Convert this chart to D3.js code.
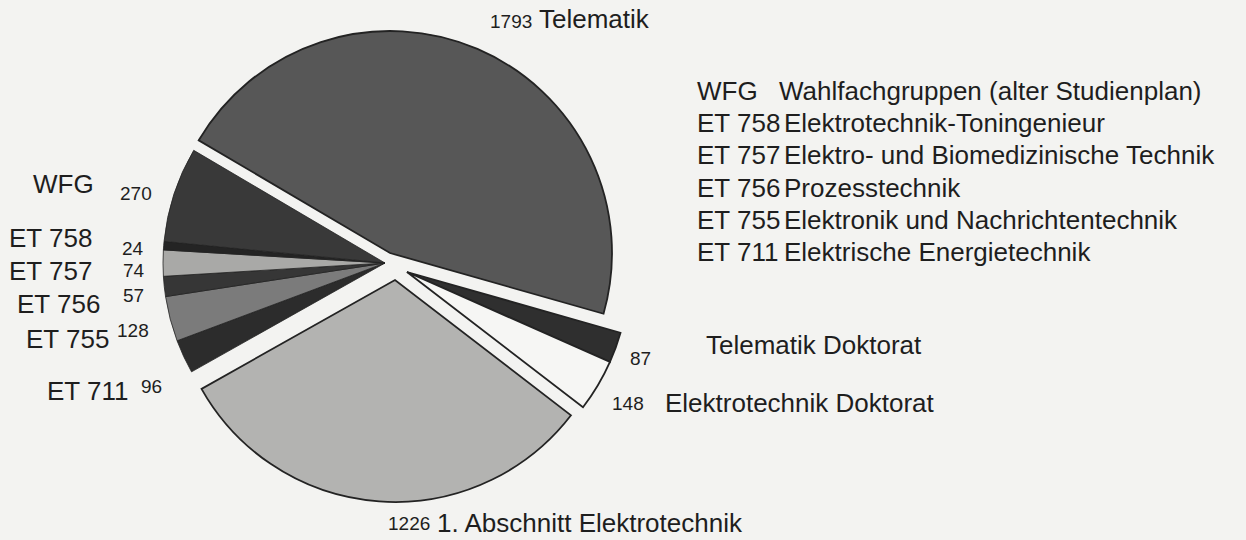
<!DOCTYPE html>
<html>
<head>
<meta charset="utf-8">
<script src="https://cdn.jsdelivr.net/npm/d3@7"></script>
<style>
  html, body { margin: 0; padding: 0; background: #f3f3f1; }
  svg { display: block; }
  text { font-family: "Liberation Sans", Arial, Helvetica, sans-serif; fill: #1e1e1e; }
</style>
</head>
<body>
<svg id="chart" width="1246" height="540"></svg>
<script>
// ---- data ----
const categories = ["Telematik", "Telematik Doktorat", "Elektrotechnik Doktorat", "1. Abschnitt Elektrotechnik",
                    "ET 711", "ET 755", "ET 756", "ET 757", "ET 758", "WFG"];
const values = [1793, 87, 148, 1226, 96, 128, 57, 74, 24, 270];
const groupOf = ["tel", "dok", "dok", "abs", "left", "left", "left", "left", "left", "left"];
const legendCodes = ["WFG", "ET 758", "ET 757", "ET 756", "ET 755", "ET 711"];
const legendNames = ["Wahlfachgruppen (alter Studienplan)", "Elektrotechnik-Toningenieur",
                     "Elektro- und Biomedizinische Technik", "Prozesstechnik",
                     "Elektronik und Nachrichtentechnik", "Elektrische Energietechnik"];

// ---- styles / layout ----
const fills = ["#575757", "#2f2f2f", "#f6f6f4", "#b3b3b1", "#2c2c2c", "#7b7b7b", "#363636", "#a9a9a7", "#242424", "#393939"];
const groupApex = { tel: [390, 253], dok: [407, 272], abs: [395, 280], left: [385, 263] };
const R = 222;
const a0 = -59.5 * Math.PI / 180;
const LABEL = 26, NUM = 19;

const svg = d3.select("#chart");
const pie = d3.pie().sort(null).value(d => d).startAngle(a0).endAngle(a0 + 2 * Math.PI);
const arcs = pie(values);
const arc = d3.arc().innerRadius(0).outerRadius(R);

svg.append("g").selectAll("path")
  .data(arcs)
  .join("path")
  .attr("transform", (d, i) => `translate(${groupApex[groupOf[i]][0]},${groupApex[groupOf[i]][1]})`)
  .attr("d", arc)
  .attr("fill", (d, i) => fills[i])
  .attr("stroke", "#232323")
  .attr("stroke-width", (d, i) => groupOf[i] === "left" ? 0.8 : 1.8)
  .attr("stroke-linejoin", "miter");

// ---- labels ----
const lbl = svg.append("g");
function t(x, y, s, size) {
  lbl.append("text").attr("x", x).attr("y", y).attr("font-size", size).text(s);
}
const idx = name => categories.indexOf(name);

// top
t(490, 28, values[idx("Telematik")], NUM);
t(539, 28, "Telematik", LABEL);
// right
t(630, 365, values[idx("Telematik Doktorat")], NUM);
t(706, 354, "Telematik Doktorat", LABEL);
t(612, 410, values[idx("Elektrotechnik Doktorat")], NUM);
t(665, 412, "Elektrotechnik Doktorat", LABEL);
// bottom
t(388, 530, values[idx("1. Abschnitt Elektrotechnik")], NUM);
t(437, 532, "1. Abschnitt Elektrotechnik", LABEL);

// left labels
const leftPos = {
  "WFG":    { lx: 33, ly: 193, nx: 120, ny: 200 },
  "ET 758": { lx: 9,  ly: 247, nx: 122, ny: 255 },
  "ET 757": { lx: 9,  ly: 280, nx: 123, ny: 277 },
  "ET 756": { lx: 17, ly: 313, nx: 123, ny: 302 },
  "ET 755": { lx: 26, ly: 348, nx: 117, ny: 337 },
  "ET 711": { lx: 47, ly: 400, nx: 141, ny: 393 }
};
legendCodes.forEach(c => {
  const p = leftPos[c];
  t(p.lx, p.ly, c, LABEL);
  t(p.nx, p.ny, values[idx(c)], NUM);
});

// legend
const legendY = [100, 132, 164, 197, 229, 261];
legendCodes.forEach((c, i) => {
  t(697, legendY[i], c, LABEL);
  t(i === 0 ? 779 : 784, legendY[i], legendNames[i], LABEL);
});
</script>
</body>
</html>
